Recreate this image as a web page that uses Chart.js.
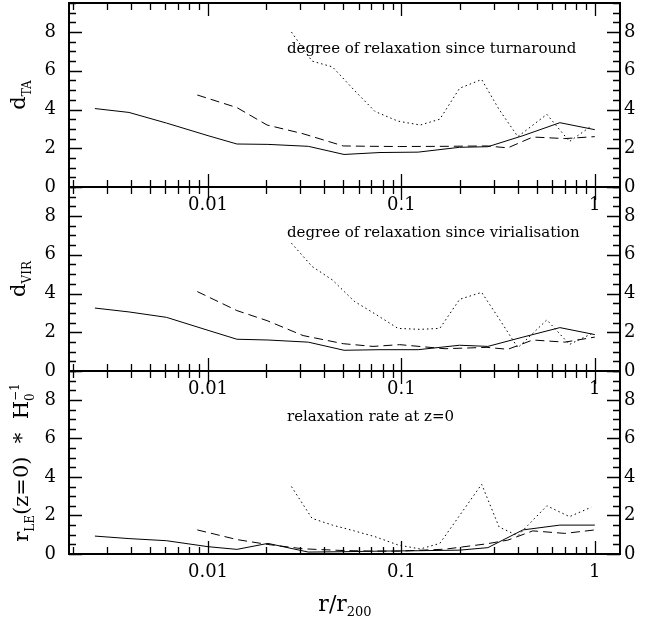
<!DOCTYPE html>
<html>
<head>
<meta charset="utf-8">
<script src="https://cdn.jsdelivr.net/npm/chart.js@4.4.0/dist/chart.umd.min.js"></script>
<style>
  html, body { margin: 0; padding: 0; background: #fff; }
  #wrap { position: relative; width: 666px; height: 621px; }
  #wrap div { position: absolute; left: 0; top: 0; width: 666px; height: 621px; }
</style>
</head>
<body>
<div id="wrap">
  <div><canvas id="c1"></canvas></div>
  <div><canvas id="c2"></canvas></div>
  <div><canvas id="c3"></canvas></div>
</div>
<script>
// radial bins, r / r200, one list per curve style
const rSolid  = [0.0026, 0.0039, 0.0061, 0.010, 0.0141, 0.0204, 0.033, 0.0505, 0.0775, 0.122, 0.20, 0.28, 0.425, 0.66, 1.0];
const rDashed = [0.0088, 0.0141, 0.0202, 0.031, 0.050, 0.0713, 0.098, 0.168, 0.277, 0.355, 0.478, 0.70, 1.0];
const rDotted = [0.027, 0.0345, 0.044, 0.057, 0.073, 0.096, 0.125, 0.158, 0.20, 0.26, 0.32, 0.40, 0.565, 0.74, 0.96];

// degree of relaxation since turnaround
const dTA_solid  = [4.05, 3.85, 3.3, 2.65, 2.22, 2.2, 2.1, 1.68, 1.78, 1.8, 2.05, 2.08, 2.65, 3.32, 2.96];
const dTA_dashed = [4.75, 4.1, 3.2, 2.75, 2.12, 2.1, 2.09, 2.1, 2.12, 2.02, 2.58, 2.5, 2.6];
const dTA_dotted = [8.0, 6.5, 6.2, 5.0, 3.9, 3.4, 3.2, 3.5, 5.1, 5.55, 4.0, 2.6, 3.75, 2.35, 3.15];

// degree of relaxation since virialisation
const dVIR_solid  = [3.25, 3.05, 2.77, 2.1, 1.64, 1.6, 1.49, 1.07, 1.1, 1.1, 1.33, 1.27, 1.75, 2.24, 1.88];
const dVIR_dashed = [4.1, 3.12, 2.6, 1.83, 1.41, 1.27, 1.36, 1.15, 1.22, 1.12, 1.6, 1.49, 1.75];
const dVIR_dotted = [6.6, 5.4, 4.7, 3.6, 2.95, 2.2, 2.15, 2.2, 3.7, 4.06, 2.7, 1.2, 2.64, 1.37, 1.92];

// relaxation rate at z=0
const rLE_solid  = [0.93, 0.8, 0.69, 0.38, 0.24, 0.55, 0.1, 0.12, 0.15, 0.17, 0.2, 0.33, 1.25, 1.5, 1.5];
const rLE_dashed = [1.25, 0.75, 0.5, 0.27, 0.18, 0.15, 0.15, 0.25, 0.53, 0.72, 1.2, 1.07, 1.25];
const rLE_dotted = [3.5, 1.85, 1.5, 1.2, 0.9, 0.47, 0.26, 0.55, 2.0, 3.62, 1.4, 0.95, 2.5, 1.94, 2.43];

const xTickLabels = [0.01, 0.1, 1];
const yTickLabels = [0, 2, 4, 6, 8];

const FONT = 'DejaVu Serif';
const XMIN = 0.00191, XMAX = 1.35, YMAX = 9.5;

function pts(xs, ys) {
  return xs.map((x, i) => ({ x: x, y: ys[i] }));
}

// text with sub/superscripts: parts = [text, size, dy, noAdvance]
function rich(ctx, parts, x, y, rot) {
  ctx.save();
  ctx.translate(x, y);
  if (rot) ctx.rotate(rot);
  ctx.fillStyle = '#000';
  ctx.textAlign = 'left';
  ctx.textBaseline = 'alphabetic';
  let w = 0;
  parts.forEach(p => {
    ctx.font = p[1] + 'px "' + FONT + '"';
    if (!p[3]) w += ctx.measureText(p[0]).width;
  });
  let cx = -w / 2;
  parts.forEach(p => {
    ctx.font = p[1] + 'px "' + FONT + '"';
    ctx.fillText(p[0], cx, p[2]);
    if (!p[3]) cx += ctx.measureText(p[0]).width;
  });
  ctx.restore();
}

const framePlugin = {
  id: 'frame',
  afterDraw(chart, args, opts) {
    const ctx = chart.ctx;
    const a = chart.chartArea;
    const xs = chart.scales.x, ys = chart.scales.y;
    ctx.save();
    ctx.strokeStyle = '#000';
    ctx.lineWidth = 1.3;
    ctx.beginPath();
    for (let e = -3; e <= 0; e++) {
      for (let k = 1; k <= 9; k++) {
        const v = k * Math.pow(10, e);
        if (v < XMIN || v > XMAX) continue;
        const px = Math.round(xs.getPixelForValue(v)) + 0.5;
        const len = k === 1 ? 13 : 7;
        ctx.moveTo(px, a.top); ctx.lineTo(px, a.top + len);
        ctx.moveTo(px, a.bottom); ctx.lineTo(px, a.bottom - len);
      }
    }
    for (let v = 0; v <= YMAX; v += 0.5) {
      const py = Math.round(ys.getPixelForValue(v)) + 0.5;
      const len = v % 2 === 0 ? 13 : 7;
      ctx.moveTo(a.left, py); ctx.lineTo(a.left + len, py);
      ctx.moveTo(a.right, py); ctx.lineTo(a.right - len, py);
    }
    ctx.stroke();
    ctx.lineWidth = 2;
    ctx.strokeRect(a.left, a.top, a.right - a.left, a.bottom - a.top);
    ctx.restore();

    const cy = (a.top + a.bottom) / 2;
    rich(ctx, opts.yTitle, opts.yTitleX, cy, -Math.PI / 2);

    ctx.save();
    ctx.fillStyle = '#000';
    ctx.font = '15px "' + FONT + '"';
    ctx.textBaseline = 'alphabetic';
    ctx.fillText(opts.note, a.left + 218, a.top + 50);
    ctx.restore();

    if (opts.xTitle) {
      rich(ctx, [['r/r', 22, 0], ['200', 13, 5]], 345, 611, 0);
    }
  }
};

function makePanel(id, top, bottom, yTitle, yTitleX, note, solid, dashed, dotted, xTitle) {
  const line = { borderColor: '#000', borderWidth: 1, pointRadius: 0, fill: false, tension: 0 };
  new Chart(document.getElementById(id), {
    type: 'line',
    data: {
      datasets: [
        Object.assign({ data: pts(rSolid, solid) }, line),
        Object.assign({ data: pts(rDashed, dashed), borderDash: [9, 5] }, line),
        Object.assign({ data: pts(rDotted, dotted), borderDash: [1.5, 3], borderWidth: 1.2 }, line)
      ]
    },
    options: {
      responsive: true,
      maintainAspectRatio: false,
      animation: false,
      layout: { padding: { top: top, bottom: 621 - 30 - bottom, left: 0, right: 0 } },
      plugins: {
        legend: { display: false },
        tooltip: { enabled: false },
        frame: { yTitle: yTitle, yTitleX: yTitleX, note: note, xTitle: xTitle }
      },
      scales: {
        x: {
          type: 'logarithmic', position: 'bottom', min: XMIN, max: XMAX,
          grid: { display: false, drawTicks: false }, border: { display: false },
          afterBuildTicks: s => { s.ticks = xTickLabels.map(v => ({ value: v })); },
          ticks: { color: '#000', font: { family: FONT, size: 18 }, padding: 8, maxRotation: 0, autoSkip: false,
                   callback: v => String(v) },
          afterFit: s => { s.height = 30; s.paddingLeft = 0; s.paddingRight = 0; }
        },
        y: {
          type: 'linear', position: 'left', min: 0, max: YMAX,
          grid: { display: false, drawTicks: false }, border: { display: false },
          afterBuildTicks: s => { s.ticks = yTickLabels.map(v => ({ value: v })); },
          ticks: { color: '#000', font: { family: FONT, size: 18 }, padding: 13 },
          afterFit: s => { s.width = 69; s.paddingTop = 0; s.paddingBottom = 0; }
        },
        y2: {
          type: 'linear', position: 'right', min: 0, max: YMAX,
          grid: { display: false, drawTicks: false }, border: { display: false },
          afterBuildTicks: s => { s.ticks = yTickLabels.map(v => ({ value: v })); },
          ticks: { color: '#000', font: { family: FONT, size: 18 }, padding: 4 },
          afterFit: s => { s.width = 46; s.paddingTop = 0; s.paddingBottom = 0; }
        }
      }
    },
    plugins: [framePlugin]
  });
}

makePanel('c1', 3, 187, [['d', 21, 0], ['TA', 12, 6]], 25,
  'degree of relaxation since turnaround', dTA_solid, dTA_dashed, dTA_dotted, false);
makePanel('c2', 187, 371, [['d', 21, 0], ['VIR', 12, 6]], 25,
  'degree of relaxation since virialisation', dVIR_solid, dVIR_dashed, dVIR_dotted, false);
makePanel('c3', 371, 554, [['r', 21, 0], ['LE', 12, 6], ['(z=0)  *  H', 21, 0], ['0', 12, 6, true], ['\u22121', 12, -9]], 28,
  'relaxation rate at z=0', rLE_solid, rLE_dashed, rLE_dotted, true);
</script>
</body>
</html>
